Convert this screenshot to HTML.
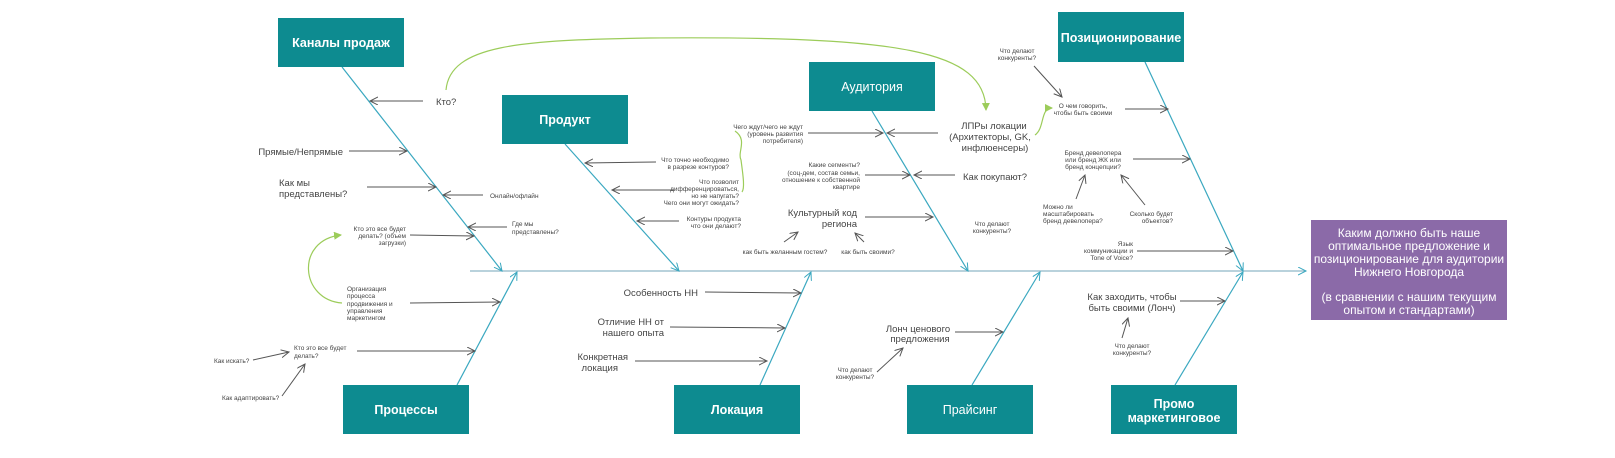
<!DOCTYPE html>
<html><head><meta charset="utf-8"><style>
html,body{margin:0;padding:0;background:#fff}
svg{display:block;font-family:"Liberation Sans",sans-serif}
.b{fill:#0d8b90}
.bt{fill:#fff;font-weight:bold;font-size:12.5px;text-anchor:middle}
.bone{stroke:#3aa8c0;stroke-width:1.2;fill:none}
.a{stroke:#555;stroke-width:1;fill:none;marker-end:url(#ar)}
.m{font-size:9.5px;fill:#444}
.s{font-size:6.5px;fill:#444}
.e{text-anchor:end}.c{text-anchor:middle}
.g{stroke:#9ccc5a;stroke-width:1.2;fill:none;marker-end:url(#ga)}
.g2{stroke:#9ccc5a;stroke-width:1.2;fill:none}
</style></head><body>
<svg width="1615" height="458" viewBox="0 0 1615 458">
<defs>
<marker id="ar" markerWidth="10" markerHeight="10" refX="8" refY="4" orient="auto" markerUnits="userSpaceOnUse"><path d="M0,0 L8,4 L0,8" fill="none" stroke="#555" stroke-width="1"/></marker>
<marker id="ba" markerWidth="10" markerHeight="10" refX="8" refY="4" orient="auto" markerUnits="userSpaceOnUse"><path d="M0,0 L8,4 L0,8" fill="none" stroke="#3aa8c0" stroke-width="1"/></marker>
<marker id="ga" markerWidth="10" markerHeight="10" refX="7" refY="4" orient="auto" markerUnits="userSpaceOnUse"><path d="M0,0 L8,4 L0,8 Z" fill="#9ccc5a"/></marker>
</defs>
<rect x="0" y="0" width="1615" height="458" fill="#fff"/>
<!-- spine -->
<line x1="470" y1="271" x2="1306" y2="271" stroke="#8fb8c8" stroke-width="1.2" marker-end="url(#ba)"/>
<!-- bones -->
<line class="bone" x1="342" y1="67" x2="502" y2="271" marker-end="url(#ba)"/>
<line class="bone" x1="565" y1="144" x2="679" y2="271" marker-end="url(#ba)"/>
<line class="bone" x1="872" y1="111" x2="968" y2="271" marker-end="url(#ba)"/>
<line class="bone" x1="1145" y1="62" x2="1243" y2="271" marker-end="url(#ba)"/>
<line class="bone" x1="457" y1="385" x2="517" y2="272" marker-end="url(#ba)"/>
<line class="bone" x1="760" y1="385" x2="811" y2="272" marker-end="url(#ba)"/>
<line class="bone" x1="972" y1="385" x2="1040" y2="272" marker-end="url(#ba)"/>
<line class="bone" x1="1175" y1="385" x2="1243" y2="272" marker-end="url(#ba)"/>
<!-- boxes -->
<rect class="b" x="278" y="18" width="126" height="49"/><text class="bt" x="341" y="47">Каналы продаж</text>
<rect class="b" x="502" y="95" width="126" height="49"/><text class="bt" x="565" y="124">Продукт</text>
<rect class="b" x="809" y="62" width="126" height="49"/><text class="bt" x="872" y="91" style="font-weight:normal">Аудитория</text>
<rect class="b" x="1058" y="12" width="126" height="50"/><text class="bt" x="1121" y="42">Позиционирование</text>
<rect class="b" x="343" y="385" width="126" height="49"/><text class="bt" x="406" y="414">Процессы</text>
<rect class="b" x="674" y="385" width="126" height="49"/><text class="bt" x="737" y="414">Локация</text>
<rect class="b" x="907" y="385" width="126" height="49"/><text class="bt" x="970" y="414" style="font-weight:normal">Прайсинг</text>
<rect class="b" x="1111" y="385" width="126" height="49"/><text class="bt" x="1174" y="408">Промо</text><text class="bt" x="1174" y="422">маркетинговое</text>
<rect x="1311" y="220" width="196" height="100" fill="#8b6aa8"/>
<g fill="#fff" font-size="12" text-anchor="middle">
<text x="1409" y="237">Каким должно быть наше</text>
<text x="1409" y="250">оптимальное предложение и</text>
<text x="1409" y="263">позиционирование для аудитории</text>
<text x="1409" y="276">Нижнего Новгорода</text>
<text x="1409" y="301">(в сравнении с нашим текущим</text>
<text x="1409" y="314">опытом и стандартами)</text>
</g>
<!-- green arrows -->
<path class="g" d="M446,90 C450,45 520,40 650,38 C900,36 985,50 986,110"/>
<path class="g" d="M342,303 C300,300 295,240 341,235"/>
<path class="g2" d="M735,131 C748,140 737,152 741,160 C743,175 745,188 742,192"/>
<path class="g" d="M1035,135 C1045,128 1040,108 1052,108"/>
<!-- Каналы -->
<text class="m" x="436" y="105">Кто?</text><line class="a" x1="423" y1="101" x2="370" y2="101"/>
<text class="m e" x="343" y="155">Прямые/Непрямые</text><line class="a" x1="349" y1="151" x2="407" y2="151"/>
<text class="m" x="279" y="186">Как мы</text><text class="m" x="279" y="197">представлены?</text><line class="a" x1="367" y1="187" x2="436" y2="187"/>
<text class="s" x="490" y="198">Онлайн/офлайн</text><line class="a" x1="483" y1="195" x2="443" y2="195"/>
<text class="s" x="512" y="226">Где мы</text><text class="s" x="512" y="234">представлены?</text><line class="a" x1="507" y1="227" x2="468" y2="227"/>
<text class="s e" x="406" y="231">Кто это все будет</text><text class="s e" x="406" y="238">делать? (объем</text><text class="s e" x="406" y="245">загрузки)</text><line class="a" x1="410" y1="235" x2="474" y2="236"/>
<g class="s"><text x="347" y="291">Организация</text><text x="347" y="298">процесса</text><text x="347" y="306">продвижения и</text><text x="347" y="313">управления</text><text x="347" y="320">маркетингом</text></g>
<line class="a" x1="410" y1="303" x2="500" y2="302"/>
<text class="s" x="294" y="350">Кто это все будет</text><text class="s" x="294" y="358">делать?</text><line class="a" x1="357" y1="351" x2="475" y2="351"/>
<text class="s" x="214" y="363">Как искать?</text><line class="a" x1="253" y1="360" x2="289" y2="352"/>
<text class="s" x="222" y="400">Как адаптировать?</text><line class="a" x1="282" y1="396" x2="305" y2="364"/>
<!-- Продукт -->
<text class="s e" x="729" y="162">Что точно необходимо</text><text class="s e" x="729" y="169">в разрезе контуров?</text><line class="a" x1="656" y1="162" x2="585" y2="163"/>
<g class="s e" font-size="5.5"><text x="739" y="184">Что позволит</text><text x="739" y="191">дифференцироваться,</text><text x="739" y="198">но не напугать?</text><text x="739" y="205">Чего они могут ожидать?</text></g>
<line class="a" x1="674" y1="190" x2="612" y2="190"/>
<text class="s e" x="741" y="221">Контуры продукта</text><text class="s e" x="741" y="228">что они делают?</text><line class="a" x1="679" y1="221" x2="637" y2="221"/>
<text class="s e" x="803" y="129">Чего ждут/чего не ждут</text><text class="s e" x="803" y="136">(уровень развития</text><text class="s e" x="803" y="143">потребителя)</text><line class="a" x1="808" y1="133" x2="883" y2="133"/>
<!-- Аудитория -->
<text class="m c" x="994" y="129">ЛПРы локации</text><text class="m c" x="990" y="140">(Архитекторы, GK,</text><text class="m c" x="995" y="151">инфлюенсеры)</text><line class="a" x1="938" y1="133" x2="887" y2="133"/>
<g class="s e"><text x="860" y="167">Какие сегменты?</text><text x="860" y="175">(соц-дем, состав семьи,</text><text x="860" y="182">отношение к собственной</text><text x="860" y="189">квартире</text></g>
<line class="a" x1="865" y1="175" x2="910" y2="175"/>
<text class="m" x="963" y="180">Как покупают?</text><line class="a" x1="955" y1="175" x2="914" y2="175"/>
<text class="m e" x="857" y="216">Культурный код</text><text class="m e" x="857" y="227">региона</text><line class="a" x1="865" y1="217" x2="933" y2="217"/>
<text class="s c" x="785" y="254">как быть желанным гостем?</text><line class="a" x1="784" y1="242" x2="798" y2="232"/>
<text class="s c" x="868" y="254">как быть своими?</text><line class="a" x1="864" y1="242" x2="855" y2="233"/>
<text class="s c" x="992" y="226">Что делают</text><text class="s c" x="992" y="233">конкуренты?</text>
<!-- Позиционирование -->
<text class="s c" x="1017" y="53">Что делают</text><text class="s c" x="1017" y="60">конкуренты?</text><line class="a" x1="1034" y1="66" x2="1062" y2="97"/>
<text class="s c" x="1083" y="108">О чем говорить,</text><text class="s c" x="1083" y="115">чтобы быть своими</text><line class="a" x1="1125" y1="109" x2="1168" y2="109"/>
<text class="s c" x="1093" y="155">Бренд девелопера</text><text class="s c" x="1093" y="162">или бренд ЖК или</text><text class="s c" x="1093" y="169">бренд концепции?</text><line class="a" x1="1133" y1="159" x2="1190" y2="159"/>
<text class="s" x="1043" y="209">Можно ли</text><text class="s" x="1043" y="216">масштабировать</text><text class="s" x="1043" y="223">бренд девелопера?</text><line class="a" x1="1076" y1="199" x2="1085" y2="175"/>
<text class="s e" x="1173" y="216">Сколько будет</text><text class="s e" x="1173" y="223">объектов?</text><line class="a" x1="1145" y1="205" x2="1121" y2="175"/>
<text class="s e" x="1133" y="246">Язык</text><text class="s e" x="1133" y="253">коммуникации и</text><text class="s e" x="1133" y="260">Tone of Voice?</text><line class="a" x1="1137" y1="251" x2="1233" y2="251"/>
<!-- Промо -->
<text class="m c" x="1132" y="300">Как заходить, чтобы</text><text class="m c" x="1132" y="311">быть своими (Лонч)</text><line class="a" x1="1180" y1="301" x2="1225" y2="301"/>
<line class="a" x1="1122" y1="338" x2="1128" y2="318"/>
<text class="s c" x="1132" y="348">Что делают</text><text class="s c" x="1132" y="355">конкуренты?</text>
<!-- Прайсинг -->
<text class="m c" x="918" y="332">Лонч ценового</text><text class="m c" x="920" y="342">предложения</text><line class="a" x1="955" y1="332" x2="1003" y2="332"/>
<text class="s c" x="855" y="372">Что делают</text><text class="s c" x="855" y="379">конкуренты?</text><line class="a" x1="877" y1="372" x2="903" y2="348"/>
<!-- Локация -->
<text class="m e" x="698" y="296">Особенность НН</text><line class="a" x1="705" y1="292" x2="801" y2="293"/>
<text class="m e" x="664" y="325">Отличие НН от</text><text class="m e" x="664" y="336">нашего опыта</text><line class="a" x1="670" y1="327" x2="785" y2="328"/>
<text class="m e" x="628" y="360">Конкретная</text><text class="m e" x="618" y="371">локация</text><line class="a" x1="635" y1="361" x2="767" y2="361"/>
</svg>
</body></html>
